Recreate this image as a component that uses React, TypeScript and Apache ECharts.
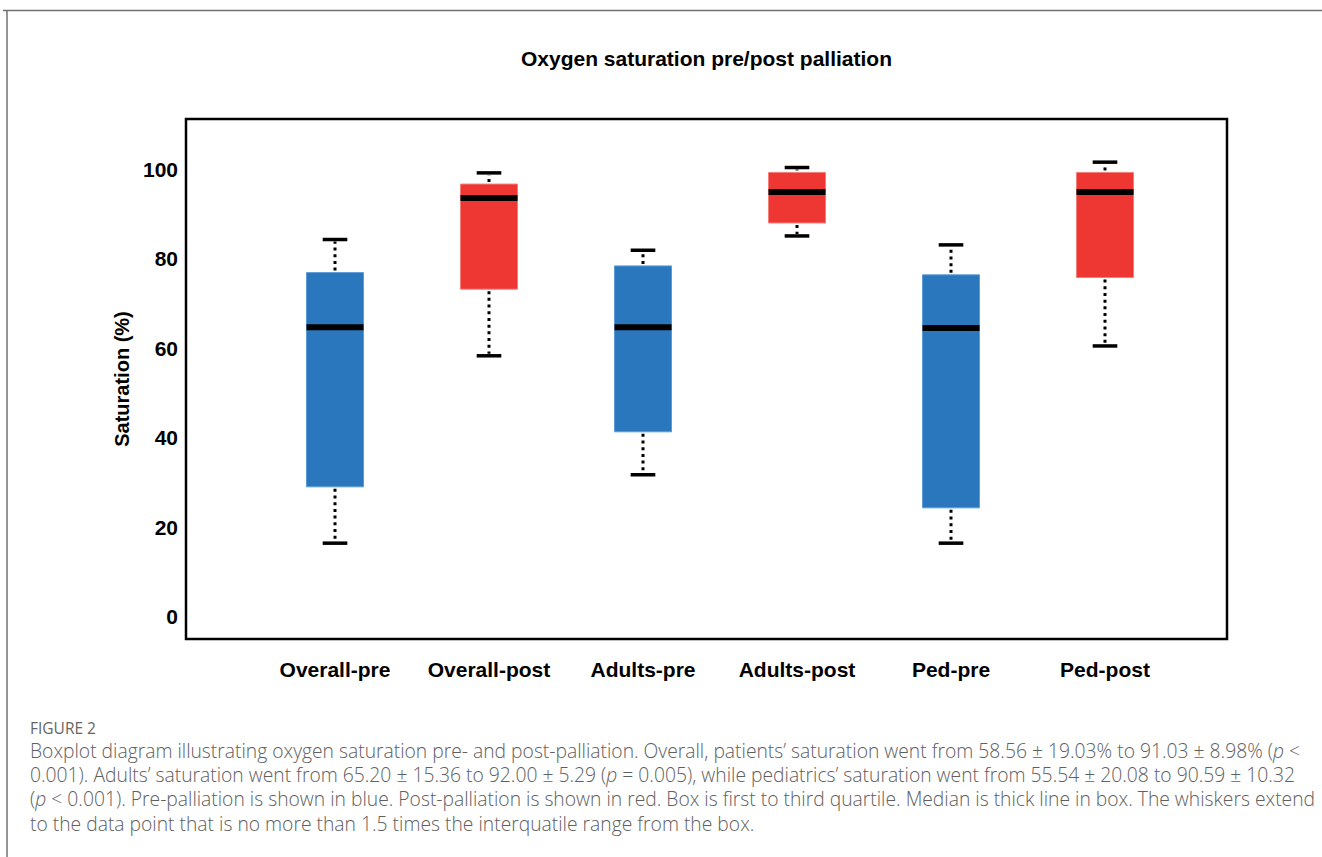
import React, { useEffect, useRef } from "react";
import * as echarts from "echarts";

const categories = ["Overall-pre", "Overall-post", "Adults-pre", "Adults-post", "Ped-pre", "Ped-post"];
const minValues = [16.4, 58.3, 31.7, 85.1, 16.4, 60.5];
const q1Values = [29.0, 73.2, 41.3, 88.0, 24.3, 75.8];
const medianValues = [64.7, 93.6, 64.7, 94.9, 64.5, 94.9];
const q3Values = [76.9, 96.7, 78.4, 99.3, 76.4, 99.3];
const maxValues = [84.3, 99.2, 81.9, 100.4, 83.1, 101.6];
const yTickLabels = [0, 20, 40, 60, 80, 100];

const titleText = "Oxygen saturation pre/post palliation";
const yAxisTitle = "Saturation (%)";
const figureLabel = "FIGURE 2";
const captionLines = [
  "{n|Boxplot diagram illustrating oxygen saturation pre- and post-palliation. Overall, patients\u2019 saturation went from 58.56 \u00b1 19.03% to 91.03 \u00b1 8.98% (}{i|p}{n| <}",
  "{n|0.001). Adults\u2019 saturation went from 65.20 \u00b1 15.36 to 92.00 \u00b1 5.29 (}{i|p}{n| = 0.005), while pediatrics\u2019 saturation went from 55.54 \u00b1 20.08 to 90.59 \u00b1 10.32}",
  "{n|(}{i|p}{n| < 0.001). Pre-palliation is shown in blue. Post-palliation is shown in red. Box is first to third quartile. Median is thick line in box. The whiskers extend}",
  "{n|to the data point that is no more than 1.5 times the interquatile range from the box.}",
];

const FONT = "'Liberation Sans', Arial, Helvetica, sans-serif";
const CAP_FONT = "'Open Sans', Lato, sans-serif";

export default function App() {
  const ref = useRef<HTMLDivElement>(null);
  useEffect(() => {
    if (!ref.current) return;
    const chart = echarts.init(ref.current, undefined, { renderer: "svg" });
    const data = categories.map((c, i) => [i, minValues[i], q1Values[i], medianValues[i], q3Values[i], maxValues[i]]);
    const yMin = -5.03;
    const yMax = 111.25;
    const capColor = "#606060";
    const option: any = {
      animation: false,
      backgroundColor: "#fff",
      grid: [
        { left: 186, right: 95, top: 119, bottom: 218, show: true, borderColor: "#000", borderWidth: 2.5, backgroundColor: "transparent" },
        { left: 258, right: 140, top: 119, bottom: 218 },
      ],
      xAxis: [
        { type: "value", gridIndex: 0, show: false, min: 0, max: 1 },
        {
          type: "category",
          gridIndex: 1,
          data: categories,
          boundaryGap: true,
          axisLine: { show: false },
          axisTick: { show: false },
          splitLine: { show: false },
          axisLabel: { margin: 20, color: "#000", fontFamily: FONT, fontWeight: "bold", fontSize: 21, interval: 0 },
        },
      ],
      yAxis: [
        {
          type: "value",
          gridIndex: 0,
          min: yMin,
          max: yMax,
          axisLine: { show: false },
          axisTick: { show: false },
          splitLine: { show: false },
          axisLabel: {
            margin: 8,
            color: "#000",
            fontFamily: FONT,
            fontWeight: "bold",
            fontSize: 21,
            showMinLabel: false,
            showMaxLabel: false,
            formatter: (v: number) => (yTickLabels.indexOf(Math.round(v * 1000) / 1000) >= 0 ? String(v) : ""),
          },
          name: yAxisTitle,
          nameLocation: "middle",
          nameGap: 54,
          nameRotate: 90,
          nameTextStyle: { color: "#000", fontFamily: FONT, fontWeight: "bold", fontSize: 20 },
        },
        { type: "value", gridIndex: 1, min: yMin, max: yMax, show: false, splitLine: { show: false } },
      ],
      series: [
        {
          type: "custom",
          xAxisIndex: 1,
          yAxisIndex: 1,
          data,
          encode: { x: 0, y: [1, 2, 3, 4, 5] },
          renderItem: (params: any, api: any) => {
            const idx = api.value(0);
            const lo = api.coord([idx, api.value(1)]);
            const q1 = api.coord([idx, api.value(2)]);
            const med = api.coord([idx, api.value(3)]);
            const q3 = api.coord([idx, api.value(4)]);
            const hi = api.coord([idx, api.value(5)]);
            const band = api.size([1, 0])[0];
            const bw = band * 0.37;
            const cw = band * 0.16;
            const x = lo[0];
            const isPre = categories[idx].endsWith("pre");
            const fill = isPre ? "#2a77bd" : "#ee3733";
            const stroke = isPre ? "#5a9bd8" : "#f47d78";
            return {
              type: "group",
              children: [
                { type: "line", shape: { x1: x, y1: q3[1] - 2, x2: x, y2: hi[1] + 2 }, style: { stroke: "#000", lineWidth: 3, lineDash: [3, 3.7] } },
                { type: "line", shape: { x1: x, y1: q1[1] + 2, x2: x, y2: lo[1] - 2 }, style: { stroke: "#000", lineWidth: 3, lineDash: [3, 3.7] } },
                { type: "rect", shape: { x: x - bw / 2, y: q3[1], width: bw, height: q1[1] - q3[1] }, style: { fill, stroke, lineWidth: 1 } },
                { type: "line", shape: { x1: x - bw / 2, y1: med[1], x2: x + bw / 2, y2: med[1] }, style: { stroke: "#000", lineWidth: 6 } },
                { type: "line", shape: { x1: x - cw / 2, y1: hi[1], x2: x + cw / 2, y2: hi[1] }, style: { stroke: "#000", lineWidth: 3.5 } },
                { type: "line", shape: { x1: x - cw / 2, y1: lo[1], x2: x + cw / 2, y2: lo[1] }, style: { stroke: "#000", lineWidth: 3.5 } },
              ],
            };
          },
        },
      ],
      graphic: [
        { type: "line", shape: { x1: 3, y1: 10.5, x2: 1322, y2: 10.5 }, style: { stroke: "#707070", lineWidth: 1.5 } },
        { type: "line", shape: { x1: 7, y1: 10, x2: 7, y2: 857 }, style: { stroke: "#707070", lineWidth: 1.5 } },
        {
          type: "text",
          x: 706.5,
          y: 58,
          style: { text: titleText, fontFamily: FONT, fontWeight: "bold", fontSize: 21, fill: "#000", textAlign: "center", textVerticalAlign: "middle" },
        },
        {
          type: "text",
          x: 30,
          y: 728,
          style: { text: figureLabel, fontFamily: CAP_FONT, fontWeight: 400, fontSize: 15.5, lineHeight: 16, fill: "#666", textAlign: "left", textVerticalAlign: "middle" },
        },
        ...captionLines.map((t, i) => ({
          type: "text",
          x: 30,
          y: 750 + i * 24.4,
          style: {
            text: t,
            textAlign: "left",
            textVerticalAlign: "middle",
            rich: {
              n: { fontFamily: CAP_FONT, fontWeight: 300, fontSize: 19.3, lineHeight: 20, fill: capColor },
              i: { fontFamily: CAP_FONT, fontWeight: 300, fontStyle: "italic", fontSize: 19.3, lineHeight: 20, fill: capColor },
            },
          },
        })),
      ],
    };
    chart.setOption(option);
    return () => chart.dispose();
  }, []);
  return <div ref={ref} style={{ position: "absolute", left: 0, top: 0, width: 1322, height: 857 }} />;
}
